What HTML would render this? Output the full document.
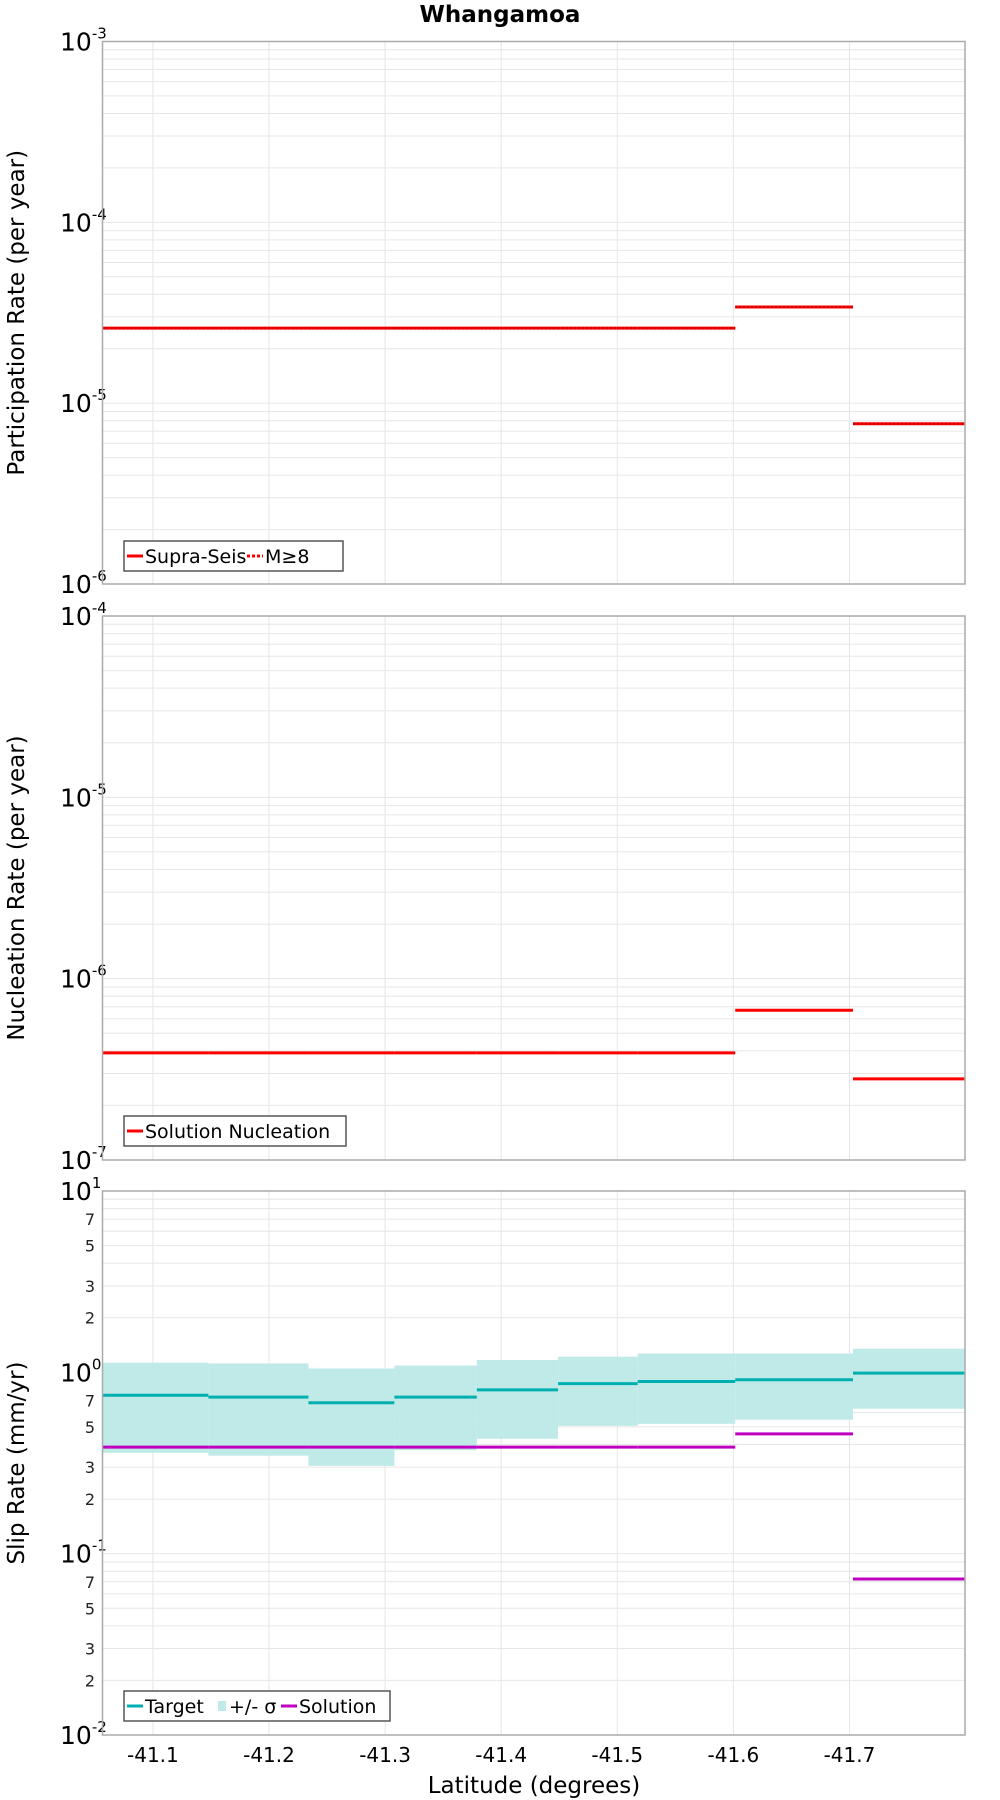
<!DOCTYPE html>
<html><head><meta charset="utf-8"><style>
html,body{margin:0;padding:0;background:#fff;}
svg{display:block;font-family:"DejaVu Sans","Liberation Sans",sans-serif;}
</style></head><body>
<svg id="chart" width="1000" height="1800" viewBox="0 0 1000 1800" xmlns="http://www.w3.org/2000/svg">
<text x="500" y="22" text-anchor="middle" font-size="23" font-weight="bold">Whangamoa</text>
<text x="534" y="1793" text-anchor="middle" font-size="23">Latitude (degrees)</text>
</svg>
<script>
// Segment boundaries (latitude)
const boundaries = [-41.0566, -41.1478, -41.234, -41.308, -41.379, -41.449, -41.5176, -41.6016, -41.703, -41.7995];
const xTicks = [-41.1, -41.2, -41.3, -41.4, -41.5, -41.6, -41.7];
const xTickLabels = ["-41.1", "-41.2", "-41.3", "-41.4", "-41.5", "-41.6", "-41.7"];
const participation = [2.6e-5, 2.6e-5, 2.6e-5, 2.6e-5, 2.6e-5, 2.6e-5, 2.6e-5, 3.4e-5, 7.7e-6];
const participationM8 = [2.6e-5, 2.6e-5, 2.6e-5, 2.6e-5, 2.6e-5, 2.6e-5, 2.6e-5, 3.4e-5, 7.7e-6];
const nucleation = [3.9e-7, 3.9e-7, 3.9e-7, 3.9e-7, 3.9e-7, 3.9e-7, 3.9e-7, 6.7e-7, 2.8e-7];
const slipTarget = [0.748, 0.73, 0.68, 0.73, 0.80, 0.867, 0.89, 0.91, 0.99];
const slipUpper = [1.13, 1.12, 1.05, 1.09, 1.17, 1.22, 1.27, 1.27, 1.35];
const slipLower = [0.36, 0.347, 0.305, 0.372, 0.43, 0.507, 0.52, 0.548, 0.63];
const slipSolution = [0.387, 0.387, 0.387, 0.387, 0.387, 0.387, 0.387, 0.458, 0.0725];

const NS = "http://www.w3.org/2000/svg";
const svg = document.getElementById("chart");
const PL = 102.5, PR = 965;
const X0 = boundaries[0], X1 = boundaries[boundaries.length - 1];
function xs(v){ return PL + (v - X0) / (X1 - X0) * (PR - PL); }
function mk(tag, attrs, parent){
  const e = document.createElementNS(NS, tag);
  for (const k in attrs) e.setAttribute(k, attrs[k]);
  (parent || svg).appendChild(e);
  return e;
}

function panel(name, top, bottom, maxExp, minExp, yTitle, minorLabels){
  const g = mk("g", {});
  
  
  const ys = v => top + (maxExp - Math.log10(v)) / (maxExp - minExp) * (bottom - top);
  for (let e = minExp; e < maxExp; e++) {
    for (let m = 1; m <= 9; m++) {
      const y = ys(m * Math.pow(10, e));
      const l = mk("line", {x1: PL, x2: PR, y1: y, y2: y, stroke: "#e6e6e6", "stroke-width": 1}, g);
      
      
      if (minorLabels && [2,3,5,7].includes(m)) {
        const t = mk("text", {x: 95, y: y + 6, "text-anchor": "end", "font-size": 16, fill: "#222"}, g);
        
        
        t.textContent = String(m);
      }
    }
  }
  xTicks.forEach(v => {
    const l = mk("line", {x1: xs(v), x2: xs(v), y1: top, y2: bottom, stroke: "#e6e6e6", "stroke-width": 1}, g);
    
    
  });
  for (let e = minExp; e <= maxExp; e++) {
    const y = ys(Math.pow(10, e));
    const t = mk("text", {x: 60, y: y + 9, "font-size": 25, fill: "#000"}, g);
    
    
    t.textContent = "10";
    const s = mk("tspan", {dy: -12, "font-size": 15}, t);
    s.textContent = String(e);
  }
  const cy = (top + bottom) / 2;
  const yt = mk("text", {x: 0, y: 0, transform: `translate(24,${cy}) rotate(-90)`, "text-anchor": "middle", "font-size": 23}, g);
  
  
  yt.textContent = yTitle;
  return {g, ys, top, bottom};
}

function frame(p){
  const r = mk("rect", {x: PL, y: p.top, width: PR - PL, height: p.bottom - p.top, fill: "none", stroke: "#aaa", "stroke-width": 1.5}, p.g);
  
  
}

function steps(p, vals, color, width, dash, nm){
  vals.forEach((v, i) => {
    const y = p.ys(v);
    const l = mk("line", {x1: xs(boundaries[i]), x2: xs(boundaries[i+1]), y1: y, y2: y, stroke: color, "stroke-width": width}, p.g);
    if (dash) l.setAttribute("stroke-dasharray", dash);
    
    
  });
}

function legend(p, x, y, w, items){
  const lg = mk("g", {}, p.g);
  
  
  const r = mk("rect", {x: x, y: y, width: w, height: 30, fill: "#fff", stroke: "#555", "stroke-width": 1.5}, lg);
  
  
  let cx = x + 3;
  items.forEach(it => {
    let sw;
    if (it.band) sw = mk("rect", {x: cx + 3, y: y + 10, width: 8, height: 10, fill: "#c0eae8"}, lg);
    else sw = mk("line", {x1: cx, x2: cx + 16, y1: y + 15, y2: y + 15, stroke: it.color, "stroke-width": 3, "stroke-dasharray": it.dash || "none"}, lg);
    
    
    const t = mk("text", {x: cx + (it.band ? 14 : 18), y: y + 22, "font-size": 19}, lg);
    
    
    t.textContent = it.label;
    cx += it.w;
  });
}

const p1 = panel("participation", 41.5, 584, -3, -6, "Participation Rate (per year)", false);
steps(p1, participation, "#ff0000", 3, null, "supra-seis-line");
steps(p1, participationM8, "#cc0000", 2, "2,2", "m8-line");
frame(p1);
legend(p1, 124, 541, 219, [{label: "Supra-Seis", color: "#ff0000", w: 120}, {label: "M≥8", color: "#ff0000", dash: "3,2", w: 60}]);

const p2 = panel("nucleation", 616, 1160, -4, -7, "Nucleation Rate (per year)", false);
steps(p2, nucleation, "#ff0000", 3, null, "nucleation-line");
frame(p2);
legend(p2, 124, 1116, 222, [{label: "Solution Nucleation", color: "#ff0000", w: 200}]);

const p3 = panel("slip-rate", 1191, 1735, 1, -2, "Slip Rate (mm/yr)", true);
slipUpper.forEach((u, i) => {
  const y1 = p3.ys(u), y2 = p3.ys(slipLower[i]);
  const r = mk("rect", {x: xs(boundaries[i]), y: y1, width: xs(boundaries[i+1]) - xs(boundaries[i]), height: y2 - y1, fill: "#c0eae8"}, p3.g);
  
  
});
steps(p3, slipTarget, "#00b0b0", 3, null, "target-line");
steps(p3, slipSolution, "#c000c0", 3, null, "solution-line");
frame(p3);
legend(p3, 124, 1691, 266, [{label: "Target", color: "#00b0b0", w: 88}, {label: "+/- σ", band: true, w: 66}, {label: "Solution", color: "#c000c0", w: 100}]);

xTicks.forEach((v, i) => {
  const t = mk("text", {x: xs(v), y: 1762, "text-anchor": "middle", "font-size": 20});
  
  
  t.textContent = xTickLabels[i];
});
</script>
</body></html>
